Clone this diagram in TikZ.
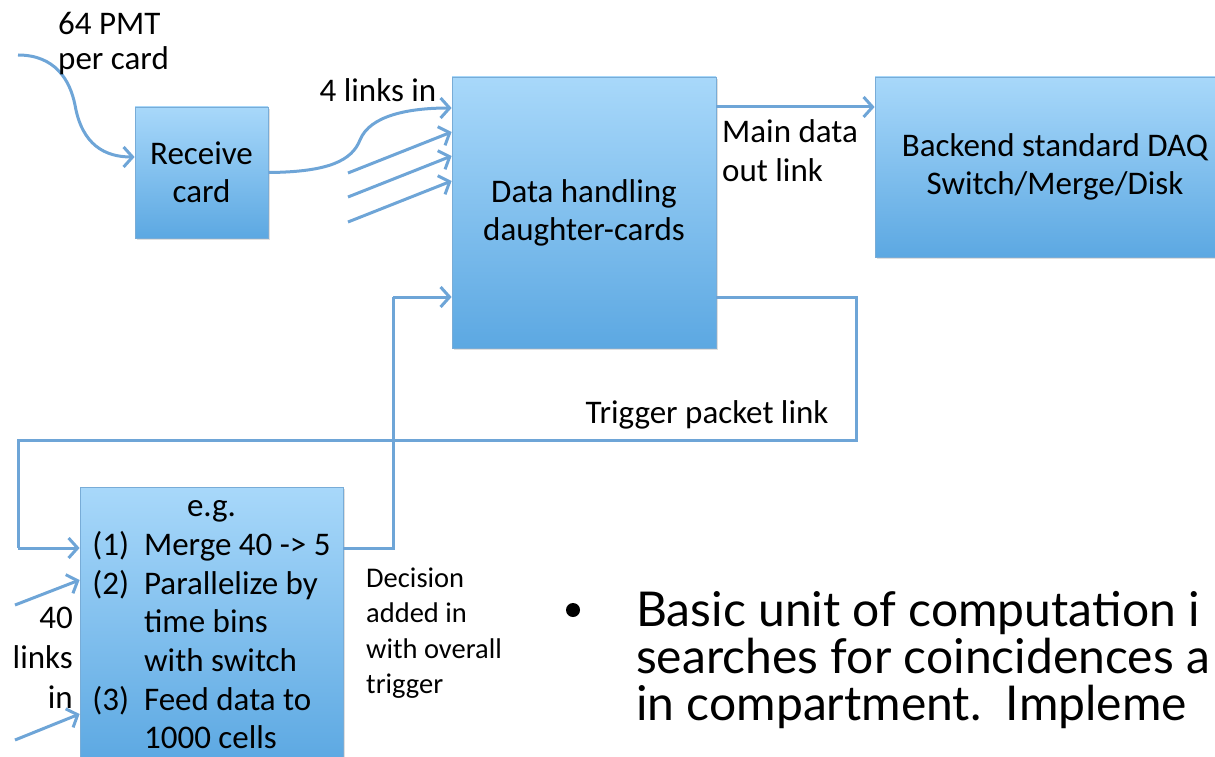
\documentclass[tikz,border=0pt]{standalone}
\usepackage{fontspec}
\setmainfont{Carlito}
\newfontfamily\bulletfont{Lato}
\usetikzlibrary{arrows.meta,shadows}
\definecolor{linkblue}{RGB}{110,165,215}
\definecolor{boxtop}{RGB}{168,216,250}
\definecolor{boxbot}{RGB}{92,168,226}
\definecolor{boxedge}{RGB}{120,172,215}
\tikzset{
  card/.style={draw=boxedge, line width=0.8pt, top color=boxtop, bottom color=boxbot,
    drop shadow={opacity=0.25, shadow xshift=2pt, shadow yshift=-2pt},
    align=center, font=\fontsize{33}{38}\selectfont, inner sep=0pt},
  wire/.style={draw=linkblue, line width=3pt},
  link/.style={wire, -{Straight Barb[length=9pt,width=20pt]}},
  lbl/.style={font=\fontsize{33}{39}\selectfont, align=left, inner sep=0pt}
}
\begin{document}
\begin{tikzpicture}[x=1pt,y=-1pt]
  \useasboundingbox (0,0) rectangle (1215,757);
  \clip (0,0) rectangle (1215,757);

  % cards
  \node[card, minimum width=133pt, minimum height=131pt] (rcv) at (201.5,172.5) {Receive\\card};
  \node[card, minimum width=264pt, minimum height=271pt] (dhc) at (584,212.5) {Data handling\\daughter-cards};
  \node[card, minimum width=360pt, minimum height=180pt] (bkd) at (1055,167) {Backend standard DAQ\\Switch/Merge/Disk};
  \node[card, minimum width=263pt, minimum height=276pt, font=\fontsize{33}{38.7}\selectfont] (eg) at (211.5,625) {%
    \begin{tabular}{@{}l@{\ \ }l@{}}
      \multicolumn{2}{c}{e.g.}\\
      (1) & Merge 40 -> 5\\
      (2) & Parallelize by\\
          & time bins\\
          & with switch\\
      (3) & Feed data to\\
          & 1000 cells
    \end{tabular}};

  % free ends
  \coordinate (pmt) at (18,55);
  \coordinate (s1) at (348,173);
  \coordinate (s2) at (348,197);
  \coordinate (s3) at (348,222);
  \coordinate (tr1) at (856,297);
  \coordinate (tr2) at (856,440);
  \coordinate (tr3) at (18,440);
  \coordinate (tr4) at (18,548);
  \coordinate (dc1) at (393,548);
  \coordinate (dc2) at (393,297);
  \coordinate (l1) at (15,605);
  \coordinate (l2) at (15,740);

  % links into receive card and data handling
  \draw[link] (pmt) .. controls (55,55) and (70,80) .. (75,105)
    .. controls (82,145) and (105,157) .. ([yshift=15.5pt]rcv.west);
  \draw[link] (rcv.east) .. controls (330,172) and (352,160) .. (360,140)
    .. controls (370,115) and (410,108) .. ([yshift=104.5pt]dhc.west);
  \draw[link] (s1) -- ([yshift=80.5pt]dhc.west);
  \draw[link] (s2) -- ([yshift=56.5pt]dhc.west);
  \draw[link] (s3) -- ([yshift=31.5pt]dhc.west);

  % main data out
  \draw[link] ([yshift=105.5pt]dhc.east) -- ([yshift=105.5pt]dhc.east -| bkd.west);

  % trigger loop
  \draw[wire] ([yshift=-84.5pt]dhc.east) -- (tr1) -- (tr2) -- (tr3) -- (tr4);
  \draw[link] (tr4) -- (tr4 -| eg.west);
  \draw[wire] (eg.east |- dc1) -- (dc1) -- (dc2);
  \draw[link] (dc2) -- (dc2 -| dhc.west);

  % 40 links in
  \draw[link] (l1) -- ([yshift=45pt]eg.west);
  \draw[link] (l2) -- ([yshift=-89pt]eg.west);

  % labels
  \node[lbl, anchor=west, font=\fontsize{33}{35}\selectfont] (pmtlbl) at (58,44) {64 PMT\\per card};
  \node[lbl] (fourlbl) at (378,90) {4 links in};
  \node[lbl, anchor=west] (mainlbl) at (722,151) {Main data\\out link};
  \node[lbl] (triglbl) at (707,415) {Trigger packet link};
  \node[lbl, anchor=east, align=right, font=\fontsize{33}{40}\selectfont] (fortylbl) at (73,658) {40\\links\\in};
  \node[lbl, anchor=west, font=\fontsize{28.5}{35.5}\selectfont] (declbl) at (366,633) {Decision\\added in\\with overall\\trigger};

  % bullet text
  \fill (573,610) circle[radius=7];
  \node[lbl, anchor=north west, font=\bulletfont\fontsize{48}{47}\selectfont] (basic) at (636,591)
    {Basic unit of computation i\\searches for coincidences a\\in compartment.\ \ Impleme};
\end{tikzpicture}
\end{document}
